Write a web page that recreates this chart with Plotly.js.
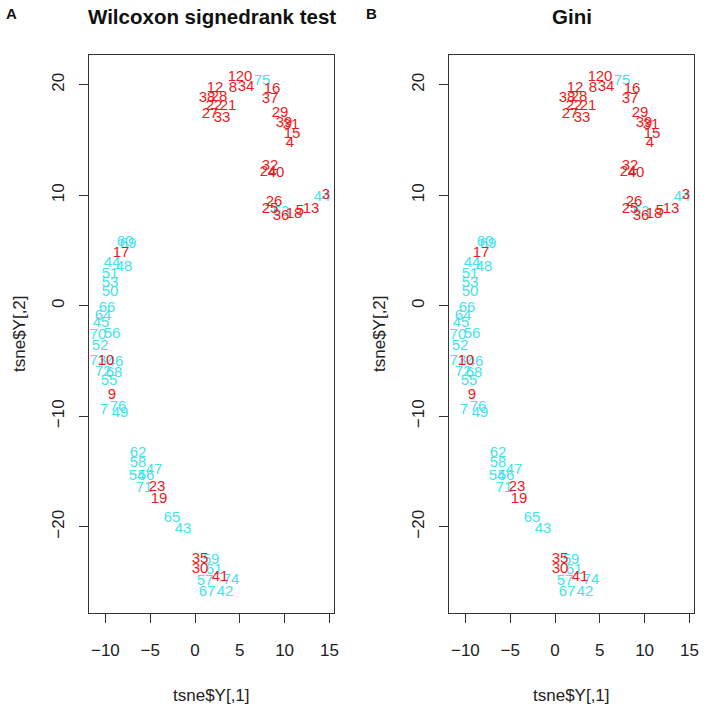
<!DOCTYPE html>
<html>
<head>
<meta charset="utf-8">
<script src="https://cdn.plot.ly/plotly-3.0.1.min.js"></script>
<style>html,body{margin:0;padding:0;background:#fff;}#chart{width:720px;height:708px;}</style>
</head>
<body>
<div id="chart"></div>
<script>
// Sample labels placed at t-SNE coordinates (tsne$Y[,1], tsne$Y[,2])
const labels = [
  "20","1","75","8","34","16","37","12","38","28","22","21","27","33","29","39","31","15","4",
  "32","24","40","26","25","53","36","18","5","13","44","3",
  "60","69","17","44b","48","51","53b","50","66","64","45","70","56","52","73","10","46","72","68","55","9","7","76","49",
  "62","58","47","54","56b","71","23","19","65","43",
  "35","59","30","61","57","41","74","67","42"
];
const tsneX = [
  5.47,4.13,7.48,4.24,5.69,8.59,8.37,2.23,1.34,2.68,2.12,3.68,1.67,3.01,9.49,9.93,10.71,10.83,10.60,
  8.37,8.15,9.04,8.82,8.37,9.60,9.60,11.05,11.72,12.95,14.17,14.62,
  -7.81,-7.48,-8.26,-9.26,-7.92,-9.49,-9.49,-9.49,-9.82,-10.27,-10.49,-10.83,-9.26,-10.60,-10.83,-9.93,-8.93,-10.27,-9.04,-9.60,-9.26,-10.16,-8.59,-8.37,
  -6.36,-6.36,-4.58,-6.47,-5.47,-5.69,-4.24,-4.02,-2.57,-1.34,
  0.56,1.79,0.56,2.12,1.12,2.79,4.02,1.34,3.35
];
const tsneY = [
  20.72,20.72,20.36,19.73,19.82,19.64,18.73,19.73,18.82,18.91,18.10,18.10,17.38,17.01,17.47,16.56,16.38,15.57,14.75,
  12.67,12.13,12.04,9.41,8.78,8.51,8.14,8.33,8.60,8.78,9.86,10.05,
  5.79,5.61,4.80,3.89,3.53,2.90,2.08,1.27,-0.18,-0.90,-1.54,-2.62,-2.53,-3.62,-4.98,-4.98,-5.07,-5.97,-6.06,-6.79,-8.05,-9.41,-9.14,-9.68,
  -13.30,-14.21,-14.84,-15.38,-15.38,-16.47,-16.38,-17.47,-19.19,-20.18,
  -22.90,-22.99,-23.80,-23.89,-24.89,-24.52,-24.80,-25.88,-25.88
];
// 1 = red group, 0 = cyan group
const group = [
  1,1,0,1,1,1,1,1,1,1,1,1,1,1,1,1,1,1,1,
  1,1,1,1,1,0,1,1,1,1,0,1,
  0,0,1,0,0,0,0,0,0,0,0,0,0,0,0,1,0,0,0,0,1,0,0,0,
  0,0,0,0,0,0,1,1,0,0,
  1,0,1,0,0,1,0,0,0
];
const xTicks = [-10,-5,0,5,10,15];
const yTicks = [-20,-10,0,10,20];
const panelTitles = ["Wilcoxon signedrank test","Gini"];
const panelLetters = ["A","B"];

const RED = "#ec1a20", CYAN = "#45e2ec";
const FONT = "Liberation Sans, Arial, Helvetica, sans-serif";
const fmt = v => (v < 0 ? "\u2212" + Math.abs(v) : String(v));

function pick(arr, g){ return arr.filter((_, i) => group[i] === g); }
const shown = labels.map(s => s.replace(/[a-z]$/, ""));

const traces = [];
[["x","y"],["x2","y2"]].forEach(([xa,ya]) => {
  [0,1].forEach(g => {
    traces.push({
      type: "scatter", mode: "text",
      x: pick(tsneX, g), y: pick(tsneY, g), text: pick(shown, g),
      textposition: "middle center",
      textfont: {family: FONT, size: 15, color: g ? RED : CYAN},
      xaxis: xa, yaxis: ya, hoverinfo: "none", cliponaxis: false
    });
  });
});

const axBase = {
  showline: true, mirror: true, linecolor: "#333", linewidth: 1,
  ticks: "outside", ticklen: 9, tickcolor: "#333", tickwidth: 1,
  showgrid: false, zeroline: false,
  tickfont: {family: FONT, size: 17, color: "#222"}
};
const xRange = [-11.83, 15.51], yRange = [-27.8, 22.7];
const xdom1 = [89/720, 334/720], xdom2 = [449/720, 694/720];
const ydom = [1 - 613/708, 1 - 55/708];

const layout = {
  width: 720, height: 708,
  margin: {l: 0, r: 0, t: 0, b: 0},
  paper_bgcolor: "#fff", plot_bgcolor: "#fff",
  showlegend: false,
  xaxis: Object.assign({}, axBase, {domain: xdom1, range: xRange, tickvals: xTicks, ticktext: xTicks.map(fmt), anchor: "y", ticklabelstandoff: 13}),
  yaxis: Object.assign({}, axBase, {domain: ydom, range: yRange, tickvals: yTicks, ticktext: yTicks.map(fmt), anchor: "x", tickangle: -90, ticklabelstandoff: 8}),
  xaxis2: Object.assign({}, axBase, {domain: xdom2, range: xRange, tickvals: xTicks, ticktext: xTicks.map(fmt), anchor: "y2", ticklabelstandoff: 13}),
  yaxis2: Object.assign({}, axBase, {domain: ydom, range: yRange, tickvals: yTicks, ticktext: yTicks.map(fmt), anchor: "x2", tickangle: -90, ticklabelstandoff: 8}),
  annotations: []
};
[xdom1, xdom2].forEach((d, i) => {
  const cx = (d[0] + d[1]) / 2;
  layout.annotations.push(
    {text: "<b>" + panelTitles[i] + "</b>", xref: "paper", yref: "paper", x: cx, y: 1 - 17/708, xanchor: "center", yanchor: "middle", showarrow: false, font: {family: FONT, size: 20.5, color: "#111"}},
    {text: "<b>" + panelLetters[i] + "</b>", xref: "paper", yref: "paper", x: (i ? 364 : 4)/720, y: 1 - 14/708, xanchor: "left", yanchor: "middle", showarrow: false, font: {family: FONT, size: 15, color: "#111"}},
    {text: "tsne$Y[,1]", xref: "paper", yref: "paper", x: cx, y: 1 - 695/708, xanchor: "center", yanchor: "middle", showarrow: false, font: {family: FONT, size: 17, color: "#222"}},
    {text: "tsne$Y[,2]", xref: "paper", yref: "paper", x: (i ? 380 : 20)/720, y: 1 - 334/708, xanchor: "center", yanchor: "middle", textangle: -90, showarrow: false, font: {family: FONT, size: 17, color: "#222"}}
  );
});

Plotly.newPlot("chart", traces, layout, {staticPlot: true, displayModeBar: false});
</script>
</body>
</html>
